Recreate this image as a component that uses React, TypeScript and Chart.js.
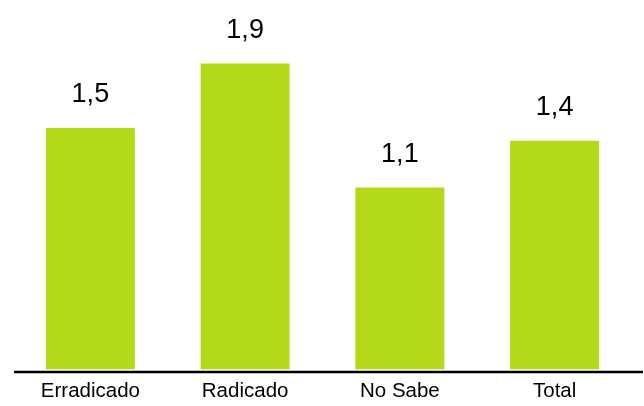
import React, { useEffect, useRef } from "react";
import { Chart, registerables } from "chart.js";

Chart.register(...registerables);

const categories = ["Erradicado", "Radicado", "No Sabe", "Total"];
const values = [1.5, 1.9, 1.13, 1.42];
const barColor = "#b4d918";
const FONT = '"Liberation Sans", Arial, sans-serif';

const formatValue = (v: number) => v.toFixed(1).replace(".", ",");

const valueLabels = {
  id: "valueLabels",
  afterDatasetsDraw(chart: any) {
    const ctx = chart.ctx;
    const meta = chart.getDatasetMeta(0);
    ctx.save();
    ctx.font = `27px ${FONT}`;
    ctx.fillStyle = "#000";
    ctx.textAlign = "center";
    ctx.textBaseline = "alphabetic";
    meta.data.forEach((bar: any, i: number) => {
      ctx.fillText(formatValue(values[i]), bar.x, bar.y - 26);
    });
    ctx.restore();
  },
};

const baseLine = {
  id: "baseLine",
  afterDraw(chart: any) {
    const ctx = chart.ctx;
    const y = chart.scales.y.getPixelForValue(0) + 2.5;
    ctx.save();
    ctx.strokeStyle = "#000";
    ctx.lineWidth = 2.5;
    ctx.beginPath();
    ctx.moveTo(14, y);
    ctx.lineTo(643, y);
    ctx.stroke();
    ctx.restore();
  },
};

export default function App() {
  const ref = useRef<HTMLCanvasElement>(null);
  useEffect(() => {
    document.body.style.margin = "0";
    const chart = new Chart(ref.current!, {
      type: "bar",
      data: {
        labels: categories,
        datasets: [
          {
            data: values,
            backgroundColor: barColor,
            borderWidth: 0,
            barPercentage: 0.575,
            categoryPercentage: 1,
          },
        ],
      },
      options: {
        animation: false,
        responsive: false,
        devicePixelRatio: 1,
        layout: { padding: { left: 13, right: 12, top: 15.2, bottom: 0 } },
        plugins: { legend: { display: false }, tooltip: { enabled: false } },
        scales: {
          x: {
            grid: { display: false, drawTicks: false },
            border: { display: false },
            ticks: {
              color: "#000",
              padding: 9.5,
              font: { family: FONT, size: 20.5 },
            },
            afterFit: (scale: any) => {
              scale.height = 36.5;
            },
          },
          y: { display: false, min: 0, max: 2.2 },
        },
      },
      plugins: [valueLabels, baseLine],
    });
    return () => chart.destroy();
  }, []);
  return (
    <div style={{ position: "absolute", left: 0, top: 0, width: 644, height: 406, background: "#fff" }}>
      <canvas ref={ref} width={644} height={406} />
    </div>
  );
}
